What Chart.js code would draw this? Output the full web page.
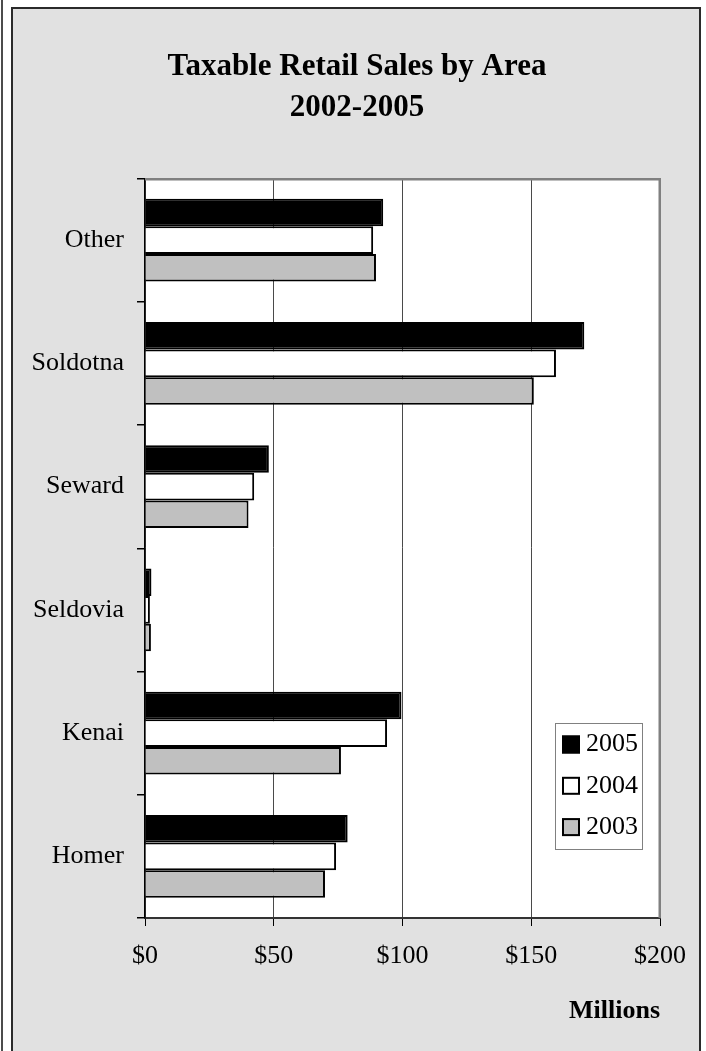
<!DOCTYPE html>
<html>
<head>
<meta charset="utf-8">
<style>
html,body{margin:0;padding:0;background:#ffffff;}
#wrap{width:706px;height:1051px;position:relative;}
canvas{display:block;}
</style>
<script src="https://cdn.jsdelivr.net/npm/chart.js@4/dist/chart.umd.min.js"></script>
</head>
<body>
<div id="wrap"><canvas id="c" width="706" height="1051" style="width:706px;height:1051px"></canvas></div>
<script>
// ---- data ----
const categories = ['Other', 'Soldotna', 'Seward', 'Seldovia', 'Kenai', 'Homer'];
const seriesNames = ['2005', '2004', '2003'];
const values2005 = [92.5, 170.6, 48.1, 2.5, 99.6, 78.7];
const values2004 = [88.6, 159.6, 42.4, 1.9, 94.0, 74.2];
const values2003 = [89.7, 151.0, 40.2, 2.3, 76.1, 69.9];
const xTickValues = [0, 50, 100, 150, 200];
const xTickLabels = ['$0', '$50', '$100', '$150', '$200'];
const titleLines = ['Taxable Retail Sales by Area', '2002-2005'];
const axisTitle = 'Millions';

const FONT = "'Liberation Serif', 'Times New Roman', Times, serif";

const framePlugin = {
  id: 'framePlugin',
  beforeDraw(chart) {
    const ctx = chart.ctx;
    const W = chart.width, H = chart.height;
    ctx.save();
    ctx.fillStyle = '#ffffff';
    ctx.fillRect(0, 0, W, H);
    ctx.fillStyle = '#e1e1e1';
    ctx.fillRect(12, 8, 688, H - 8 + 2);
    ctx.strokeStyle = '#2a2a2a';
    ctx.lineWidth = 2;
    ctx.beginPath();
    ctx.moveTo(12, H + 2); ctx.lineTo(12, 8); ctx.lineTo(700, 8); ctx.lineTo(700, H + 2);
    ctx.stroke();
    ctx.strokeStyle = '#111111';
    ctx.lineWidth = 1.5;
    ctx.beginPath();
    ctx.moveTo(2, 0); ctx.lineTo(2, H);
    ctx.stroke();
    const a = chart.chartArea;
    ctx.fillStyle = '#ffffff';
    ctx.fillRect(a.left, a.top, a.right - a.left, a.bottom - a.top);
    // chart title (centred on the frame)
    ctx.fillStyle = '#000000';
    ctx.font = 'bold 31px ' + FONT;
    ctx.textAlign = 'center';
    ctx.textBaseline = 'alphabetic';
    titleLines.forEach((line, i) => ctx.fillText(line, 357, 75 + i * 41));
    ctx.restore();
  },
  beforeDatasetsDraw(chart) {
    const ctx = chart.ctx;
    const a = chart.chartArea;
    ctx.save();
    ctx.strokeStyle = '#808080';
    ctx.lineWidth = 2.5;
    ctx.beginPath();
    ctx.moveTo(a.left, a.top + 0.75);
    ctx.lineTo(a.right - 0.25, a.top + 0.75);
    ctx.lineTo(a.right - 0.25, a.bottom);
    ctx.stroke();
    ctx.restore();
  },
  afterDraw(chart) {
    const ctx = chart.ctx;
    ctx.save();
    ctx.fillStyle = '#ffffff';
    ctx.fillRect(555.5, 723.5, 87, 126);
    ctx.strokeStyle = '#808080';
    ctx.lineWidth = 1;
    ctx.strokeRect(555.5, 723.5, 87, 126);
    chart.data.datasets.forEach((ds, i) => {
      const cy = 744.5 + i * 41.3;
      ctx.fillStyle = ds.backgroundColor;
      ctx.fillRect(562, cy - 9, 18, 18);
      ctx.strokeStyle = '#000000';
      ctx.lineWidth = 2;
      ctx.strokeRect(563, cy - 8, 16, 16);
      ctx.fillStyle = '#000000';
      ctx.font = '26px ' + FONT;
      ctx.textAlign = 'left';
      ctx.textBaseline = 'middle';
      ctx.fillText(ds.label, 586, cy);
    });
    ctx.restore();
  }
};

const colors = ['#000000', '#ffffff', '#c0c0c0'];
const seriesValues = [values2005, values2004, values2003];

new Chart(document.getElementById('c'), {
  type: 'bar',
  data: {
    labels: categories,
    datasets: seriesNames.map((name, i) => ({
      label: name,
      data: seriesValues[i],
      backgroundColor: colors[i],
      borderColor: '#000000',
      borderWidth: 2,
      barPercentage: 1.0,
      categoryPercentage: 0.67
    }))
  },
  options: {
    indexAxis: 'y',
    responsive: false,
    devicePixelRatio: 1,
    animation: false,
    layout: { padding: { top: 178.5, left: 16, right: 46, bottom: 0 } },
    plugins: {
      legend: { display: false },
      tooltip: { enabled: false },
      title: { display: false }
    },
    scales: {
      x: {
        type: 'linear',
        min: 0,
        max: 200,
        afterBuildTicks(scale) { scale.ticks = xTickValues.map(v => ({ value: v })); },
        afterFit(scale) { scale.height = 133; },
        ticks: {
          color: '#000000',
          font: { family: FONT, size: 26 },
          padding: 15,
          callback(value) { const k = xTickValues.indexOf(value); return k >= 0 ? xTickLabels[k] : ''; }
        },
        grid: {
          color(ctx) { return (ctx.tick && ctx.tick.value === 200) ? 'rgba(0,0,0,0)' : '#4a4a4a'; },
          lineWidth: 1,
          tickColor: '#000000',
          tickLength: 8,
          drawTicks: true
        },
        border: { display: true, color: '#333333', width: 2 },
        title: {
          display: true,
          text: axisTitle,
          align: 'end',
          color: '#000000',
          font: { family: FONT, size: 26, weight: 'bold' },
          padding: { top: 0, bottom: 24 }
        }
      },
      y: {
        afterFit(scale) { scale.width = 129; },
        ticks: {
          color: '#000000',
          font: { family: FONT, size: 26 },
          padding: 13
        },
        grid: {
          drawOnChartArea: false,
          drawTicks: true,
          tickLength: 8,
          tickColor: '#000000',
          lineWidth: 1.5,
          color: '#000000'
        },
        border: { display: true, color: '#000000', width: 1.5 }
      }
    }
  },
  plugins: [framePlugin]
});
</script>
</body>
</html>
